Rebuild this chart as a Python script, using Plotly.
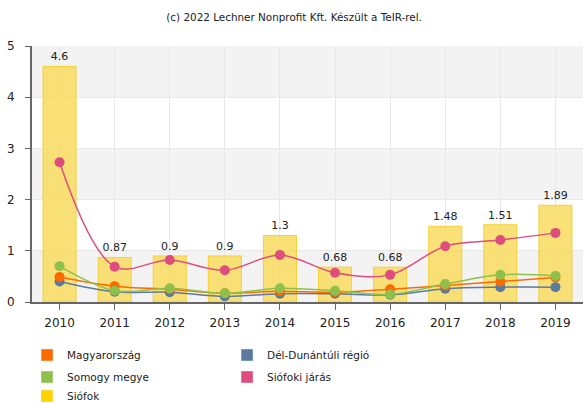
import plotly.graph_objects as go

years = ["2010", "2011", "2012", "2013", "2014", "2015", "2016", "2017", "2018", "2019"]
siofok = [4.6, 0.87, 0.9, 0.9, 1.3, 0.68, 0.68, 1.48, 1.51, 1.89]
siofoki_jaras = [2.73, 0.69, 0.82, 0.62, 0.92, 0.57, 0.53, 1.09, 1.21, 1.35]
magyarorszag = [0.49, 0.31, 0.25, 0.17, 0.21, 0.19, 0.25, 0.32, 0.40, 0.48]
del_dunantul = [0.40, 0.20, 0.19, 0.11, 0.16, 0.16, 0.14, 0.26, 0.29, 0.29]
somogy = [0.70, 0.22, 0.27, 0.17, 0.27, 0.22, 0.15, 0.35, 0.53, 0.51]

C_ORANGE = "#FF6A00"
C_BLUE = "#5B7A9E"
C_GREEN = "#8FC04B"
C_PINK = "#DE4D7C"
C_YELLOW = "#FFD200"

FONT = "DejaVu Sans"

fig = go.Figure()

fig.add_trace(go.Bar(
    x=years, y=siofok, width=0.6,
    marker=dict(color="rgba(249,220,95,0.85)", line=dict(color="rgba(245,205,40,0.9)", width=1)),
    text=[str(v) for v in siofok], textposition="outside",
    textfont=dict(size=11, color="#222", family=FONT),
    cliponaxis=False, showlegend=False, name="Siófok",
))

def line(vals, color, name):
    fig.add_trace(go.Scatter(
        x=years, y=vals, mode="lines+markers", name=name,
        line=dict(color=color, width=1.5, shape="spline", smoothing=1.0),
        marker=dict(color=color, size=10),
        showlegend=False,
    ))

line(del_dunantul, C_BLUE, "Dél-Dunántúli régió")
line(magyarorszag, C_ORANGE, "Magyarország")
line(somogy, C_GREEN, "Somogy megye")
line(siofoki_jaras, C_PINK, "Siófoki járás")

# legend entries (square swatches), one legend per row
for name, color, lg in [("Magyarország", C_ORANGE, "legend"), ("Dél-Dunántúli régió", C_BLUE, "legend"),
                        ("Somogy megye", C_GREEN, "legend2"), ("Siófoki járás", C_PINK, "legend2"),
                        ("Siófok", C_YELLOW, "legend3")]:
    fig.add_trace(go.Bar(x=[None], y=[None], name=name, marker=dict(color=color),
                         showlegend=True, legend=lg))

shapes = []
for lo in [0, 2, 4]:
    shapes.append(dict(type="rect", xref="paper", yref="y", x0=0, x1=1, y0=lo, y1=lo + 1,
                       fillcolor="#F3F3F3", line=dict(width=0), layer="below"))

def leg(yv):
    return dict(orientation="h", x=-0.009, xanchor="left", y=yv, yanchor="middle",
                entrywidth=155, font=dict(size=10.5, color="#222", family=FONT),
                traceorder="normal", itemclick=False, itemdoubleclick=False,
                bgcolor="rgba(0,0,0,0)")

fig.update_layout(
    width=583, height=403,
    margin=dict(l=32, r=0, t=46, b=101, autoexpand=False),
    paper_bgcolor="white", plot_bgcolor="white",
    shapes=shapes,
    barmode="overlay",
    font=dict(family=FONT, color="#222"),
    title=dict(text="(c) 2022 Lechner Nonprofit Kft. Készült a TeIR-rel.",
               x=0.5045, xanchor="center", y=0.958, yanchor="middle",
               font=dict(size=10.4, color="#222", family=FONT)),
    xaxis=dict(type="category", range=[-0.5, len(years) - 0.5], autorange=False,
               showgrid=True, gridcolor="#E8E8E8", gridwidth=1,
               showline=True, linecolor="#666", linewidth=2,
               ticks="outside", ticklen=6, tickcolor="#666", ticklabelstandoff=3,
               tickfont=dict(size=12, color="#222", family=FONT)),
    yaxis=dict(range=[0, 5], dtick=1, showgrid=True, gridcolor="#E8E8E8",
               showline=True, linecolor="#666", linewidth=2,
               ticks="outside", ticklen=5, tickcolor="#666", zeroline=False,
               ticklabelstandoff=8,
               tickfont=dict(size=12, color="#222", family=FONT)),
    legend=leg(-0.207),
    legend2=leg(-0.293),
    legend3=leg(-0.367),
    showlegend=True,
)

fig.write_html(
    "out.html",
    config={"displayModeBar": False},
    post_script="document.body.style.margin='0';document.body.style.overflow='hidden';",
)
